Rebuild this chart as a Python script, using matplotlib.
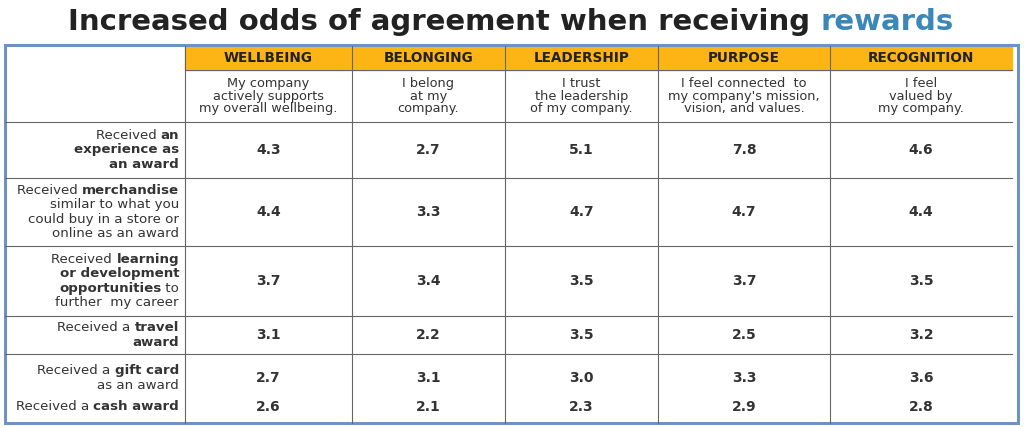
import matplotlib
matplotlib.use("Agg")
import matplotlib.pyplot as plt
from matplotlib.patches import Rectangle

categories = ["WELLBEING", "BELONGING", "LEADERSHIP", "PURPOSE", "RECOGNITION"]
statements = [
    "My company\nactively supports\nmy overall wellbeing.",
    "I belong\nat my\ncompany.",
    "I trust\nthe leadership\nof my company.",
    "I feel connected  to\nmy company's mission,\nvision, and values.",
    "I feel\nvalued by\nmy company.",
]
# each row label: list of lines, each line a list of (text, bold) segments
row_labels = [
    [[("Received ", False), ("an", True)], [("experience as", True)], [("an award", True)]],
    [[("Received ", False), ("merchandise", True)], [("similar to what you", False)],
     [("could buy in a store or", False)], [("online as an award", False)]],
    [[("Received ", False), ("learning", True)], [("or development", True)],
     [("opportunities", True), (" to", False)], [("further  my career", False)]],
    [[("Received a ", False), ("travel", True)], [("award", True)]],
    [[("Received a ", False), ("gift card", True)], [("as an award", False)]],
    [[("Received a ", False), ("cash award", True)]],
]
values = [
    [4.3, 2.7, 5.1, 7.8, 4.6],
    [4.4, 3.3, 4.7, 4.7, 4.4],
    [3.7, 3.4, 3.5, 3.7, 3.5],
    [3.1, 2.2, 3.5, 2.5, 3.2],
    [2.7, 3.1, 3.0, 3.3, 3.6],
    [2.6, 2.1, 2.3, 2.9, 2.8],
]

col_edges = [5, 185, 352, 505, 658, 830, 1012]
row_centers = [150, 212, 281, 335, 378, 407]
h_lines = [70, 122, 178, 246, 316, 354]
ORANGE = "#fdb515"
BLUE = "#3a87b8"
GRID = "#666666"
FONT = "DejaVu Sans"

fig = plt.figure(figsize=(10.24, 4.28), dpi=100)
ax = fig.add_axes([0, 0, 1, 1])
ax.set_xlim(0, 1024)
ax.set_ylim(428, 0)
ax.axis("off")
fig.canvas.draw()
renderer = fig.canvas.get_renderer()


def text_width(t):
    return t.get_window_extent(renderer).width


# title
size = 21
t1 = ax.text(0, 22, "Increased odds of agreement when receiving ", fontsize=size,
             fontweight="heavy", family=FONT, va="center", color="#222222")
t2 = ax.text(0, 22, "rewards", fontsize=size, fontweight="heavy", family=FONT,
             va="center", color=BLUE)
w1, w2 = text_width(t1), text_width(t2)
x0 = 511 - (w1 + w2) / 2
t1.set_x(x0)
t2.set_x(x0 + w1)

# header band
ax.add_patch(Rectangle((col_edges[1], 46), col_edges[-1] - col_edges[1], 24,
                       color=ORANGE, zorder=0))
for i, cat in enumerate(categories):
    cx = (col_edges[i + 1] + col_edges[i + 2]) / 2
    ax.text(cx, 58, cat, ha="center", va="center", fontsize=9.8,
            fontweight="bold", family=FONT, color="#222222")
    ax.text(cx, 96, statements[i], ha="center", va="center", fontsize=9.3,
            family=FONT, color="#333333", linespacing=0.92)

# grid
for y in h_lines:
    x_start = col_edges[1] if y == 70 else col_edges[0]
    ax.plot([x_start, col_edges[-1]], [y, y], color=GRID, lw=0.8)
for x in col_edges[1:-1]:
    ax.plot([x, x], [46, 423], color=GRID, lw=0.8)
ax.add_patch(Rectangle((col_edges[0], 45), col_edges[-1] - col_edges[0] + 6, 378,
                       fill=False, ec="#6d93c6", lw=2.2))

# row labels and values
line_h = 14.5
for r, lines in enumerate(row_labels):
    n = len(lines)
    y_top = row_centers[r] - (n - 1) * line_h / 2
    for li, segs in enumerate(lines):
        y = y_top + li * line_h
        x = col_edges[1] - 6
        for txt, bold in reversed(segs):
            t = ax.text(x, y, txt, ha="right", va="center", fontsize=9.6,
                        fontweight="bold" if bold else "normal", family=FONT,
                        color="#333333")
            x -= text_width(t)
    for c, v in enumerate(values[r]):
        cx = (col_edges[c + 1] + col_edges[c + 2]) / 2
        ax.text(cx, row_centers[r], f"{v:.1f}", ha="center", va="center",
                fontsize=10, fontweight="bold", family=FONT, color="#333333")

fig.savefig("out.png", dpi=100)
